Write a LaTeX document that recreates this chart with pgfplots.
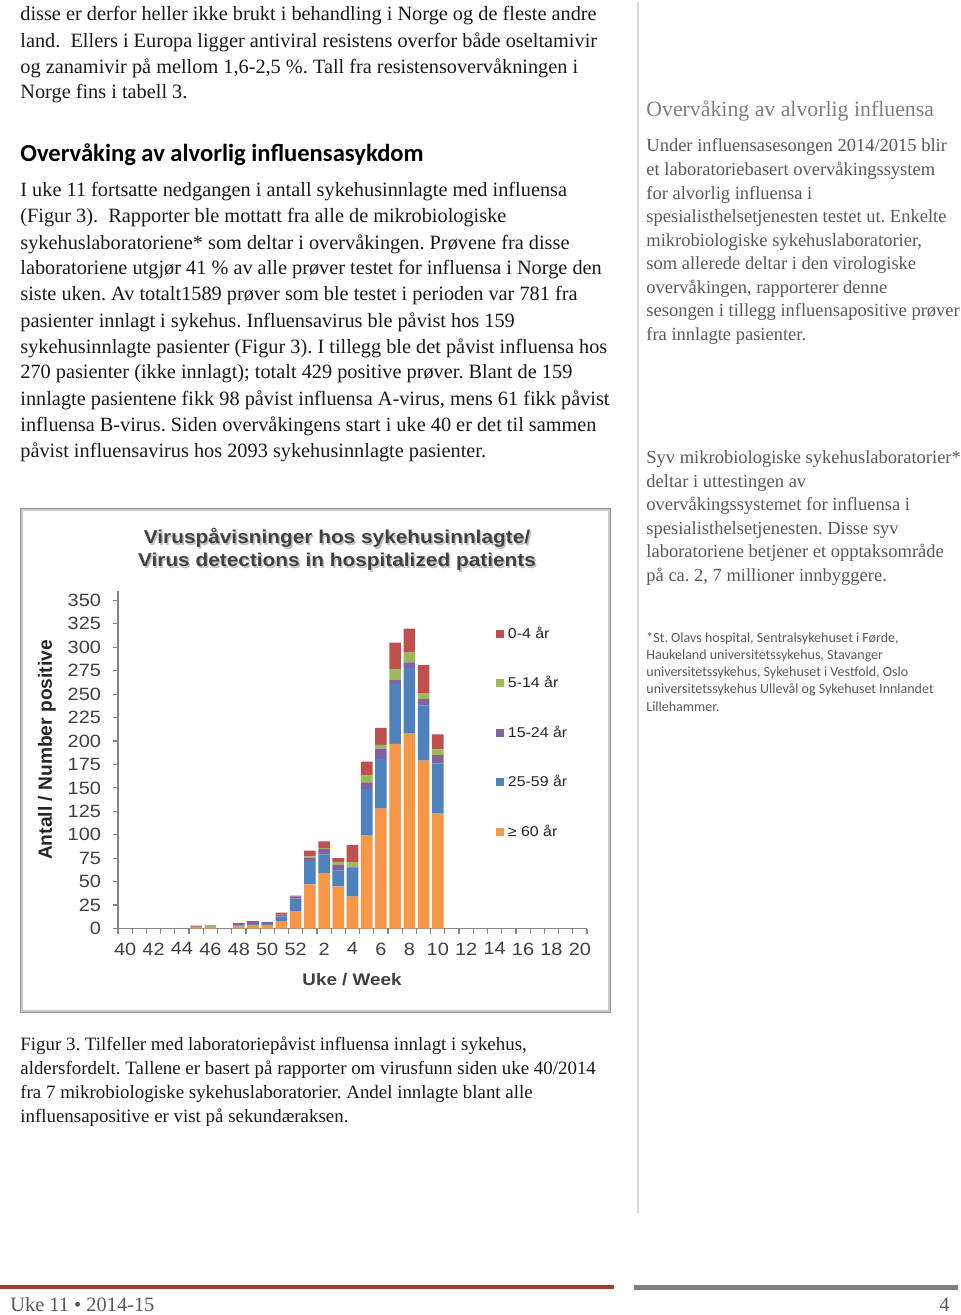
\documentclass[border=0pt]{standalone}
\usepackage{fontspec}
\setmainfont{Liberation Serif}
\newfontfamily\calfont{Carlito}
\newfontfamily\arialS[FakeStretch=1.12]{Liberation Sans}
\newfontfamily\arialN{Liberation Sans}
\usepackage{pgfplots}
\pgfplotsset{compat=1.18}
\usepackage{pgfplotstable}
\frenchspacing

\definecolor{cRed}{HTML}{C0504D}
\definecolor{cGreen}{HTML}{9BBB59}
\definecolor{cPurple}{HTML}{8064A2}
\definecolor{cBlue}{HTML}{4F81BD}
\definecolor{cOrange}{HTML}{F79646}
\definecolor{bodytxt}{HTML}{1A1A1A}
\definecolor{side}{HTML}{595959}
\definecolor{sidehead}{HTML}{7F7F7F}
\definecolor{footred}{HTML}{A33A2A}
\definecolor{axgray}{HTML}{868686}
\definecolor{chtxt}{HTML}{404040}

% x: 0..12 = weeks 40..52, 13..32 = weeks 1..20
% o: >=60, b: 25-59, p: 15-24, g: 5-14, r: 0-4
\pgfplotstableread{
x  o   b   p   g   r
5  1   0   1   0   1
6  1   1   0   2   0
8  2   1   2   0   1
9  4   1   2   0   1
10 4   1   2   0   0
11 8   5   2   0   2
12 18  14  2   0   1
13 47  25  3   2   6
14 59  20  6   1   7
15 45  17  6   3   4
16 34  31  1   5   18
17 99  50  7   8   14
18 128 53  11  4   18
19 197 64  4   12  28
20 208 70  6   11  25
21 179 59  7   6   30
22 123 53  9   6   16
}\hospdata

\begin{document}
\begin{tikzpicture}
\begin{scope}[x=0.5pt,y=-0.5pt]
\fill[white] (0,0) rectangle (960,1315);
\path[use as bounding box] (0,0) rectangle (960,1315);
\tikzset{L/.style={anchor=west, inner sep=0pt, text=bodytxt}}
% left column text
\begin{scope}[every node/.style={L, font=\fontsize{10.15}{12}\selectfont}]
\node at (20,16) {disse er derfor heller ikke brukt i behandling i Norge og de fleste andre};
\node at (20,42) {land.\ \ Ellers i Europa ligger antiviral resistens overfor både oseltamivir};
\node at (20,68) {og zanamivir på mellom 1,6-2,5 \%. Tall fra resistensovervåkningen i};
\node at (20,94) {Norge fins i tabell 3.};
\node at (20,192) {I uke 11 fortsatte nedgangen i antall sykehusinnlagte med influensa};
\node at (20,218) {(Figur 3).\ \ Rapporter ble mottatt fra alle de mikrobiologiske};
\node at (20,244) {sykehuslaboratoriene* som deltar i overvåkingen. Prøvene fra disse};
\node at (20,270) {laboratoriene utgjør 41 \% av alle prøver testet for influensa i Norge den};
\node at (20,296) {siste uken. Av totalt1589 prøver som ble testet i perioden var 781 fra};
\node at (20,322) {pasienter innlagt i sykehus. Influensavirus ble påvist hos 159};
\node at (20,348) {sykehusinnlagte pasienter (Figur 3). I tillegg ble det påvist influensa hos};
\node at (20,374) {270 pasienter (ikke innlagt); totalt 429 positive prøver. Blant de 159};
\node at (20,400) {innlagte pasientene fikk 98 påvist influensa A-virus, mens 61 fikk påvist};
\node at (20,426) {influensa B-virus. Siden overvåkingens start i uke 40 er det til sammen};
\node at (20,452) {påvist influensavirus hos 2093 sykehusinnlagte pasienter.};
\end{scope}
\node[L, text=black, font=\calfont\bfseries\fontsize{12.3}{14}\selectfont] at (20,155) {Overvåking av alvorlig influensasykdom};
% caption
\begin{scope}[every node/.style={L, font=\fontsize{9.45}{12}\selectfont}]
\node at (20,1046) {Figur 3. Tilfeller med laboratoriepåvist influensa innlagt i sykehus,};
\node at (20,1070) {aldersfordelt. Tallene er basert på rapporter om virusfunn siden uke 40/2014};
\node at (20,1094) {fra 7 mikrobiologiske sykehuslaboratorier. Andel innlagte blant alle};
\node at (20,1118) {influensapositive er vist på sekundæraksen.};
\end{scope}
% divider
\draw[color={rgb,255:red,217;green,217;blue,217}, line width=0.6pt] (638,2) -- (638,1213);
% right column
\node[L, text=sidehead, font=\fontsize{10.9}{13}\selectfont] at (646,111) {Overvåking av alvorlig influensa};
\begin{scope}[every node/.style={L, text=side, font=\fontsize{9.25}{11}\selectfont}]
\node at (646,147) {Under influensasesongen 2014/2015 blir};
\node at (646,171) {et laboratoriebasert overvåkingssystem};
\node at (646,195) {for alvorlig influensa i};
\node at (646,218) {spesialisthelsetjenesten testet ut. Enkelte};
\node at (646,242) {mikrobiologiske sykehuslaboratorier,};
\node at (646,265) {som allerede deltar i den virologiske};
\node at (646,289) {overvåkingen, rapporterer denne};
\node at (646,312) {sesongen i tillegg influensapositive prøver};
\node at (646,336) {fra innlagte pasienter.};
\node at (646,459) {Syv mikrobiologiske sykehuslaboratorier*};
\node at (646,483) {deltar i uttestingen av};
\node at (646,506) {overvåkingssystemet for influensa i};
\node at (646,530) {spesialisthelsetjenesten. Disse syv};
\node at (646,553) {laboratoriene betjener et opptaksområde};
\node at (646,577) {på ca. 2, 7 millioner innbyggere.};
\end{scope}
\begin{scope}[every node/.style={L, text=side, font=\calfont\fontsize{7}{8.5}\selectfont}]
\node at (646,639) {*St. Olavs hospital, Sentralsykehuset i Førde,};
\node at (646,656) {Haukeland universitetssykehus, Stavanger};
\node at (646,673) {universitetssykehus, Sykehuset i Vestfold, Oslo};
\node at (646,690) {universitetssykehus Ullevål og Sykehuset Innlandet};
\node at (646,707) {Lillehammer.};
\end{scope}
% footer
\fill[footred] (0,1285) rectangle (614,1289);
\fill[gray] (634,1285) rectangle (958,1290);
\node[L, text=side, font=\fontsize{10.2}{12}\selectfont] at (10,1305) {Uke 11 • 2014-15};
\node[anchor=east, inner sep=0pt, text=side, font=\fontsize{10.2}{12}\selectfont] at (950,1305) {4};
% chart frame
\draw[color={rgb,255:red,200;green,200;blue,200}, line width=1.5pt] (21,509) rectangle (609,1011);
\draw[color={rgb,255:red,150;green,150;blue,150}, line width=0.5pt] (20,508) rectangle (610,1012);
% chart title (with shadow)
\foreach \dx/\dy/\c in {1.5/1.5/{black!25}, 0/0/chtxt} {
  \node[text=\c, font=\arialS\bfseries\fontsize{9.3}{12}\selectfont] at (337+\dx,538+\dy) {Viruspåvisninger hos sykehusinnlagte/};
  \node[text=\c, font=\arialS\bfseries\fontsize{9.3}{12}\selectfont] at (337+\dx,562+\dy) {Virus detections in hospitalized patients};
}
\node[rotate=90, text={rgb,255:red,38;green,38;blue,38}, font=\arialN\bfseries\fontsize{9.6}{12}\selectfont] at (47,750) {Antall / Number positive};
\node[text=chtxt, font=\arialS\bfseries\fontsize{8.4}{10}\selectfont] at (352,980) {Uke / Week};
\end{scope}

\begin{axis}[
  at={(59pt,-464.25pt)}, anchor=south west,
  scale only axis, width=234.5pt, height=168.75pt,
  xmin=-0.5, xmax=32.5, ymin=0, ymax=360,
  ybar stacked, bar width=5.8pt,
  axis x line*=bottom, axis y line*=left,
  axis line style={axgray, line width=0.6pt, -},
  tick style={axgray, line width=0.6pt},
  tick align=outside, major tick length=2.5pt,
  ytick={0,25,...,350},
  xtick={-0.5,0.5,...,32.5},
  xticklabels={40,,42,,44,,46,,48,,50,,52,,2,,4,,6,,8,,10,,12,,14,,16,,18,,20,,},
  xticklabel style={xshift=3.55pt, yshift=-1pt, font=\arialS\fontsize{8.9}{10}\selectfont, text=chtxt},
  yticklabel style={xshift=-2.5pt, font=\arialS\fontsize{8.9}{10}\selectfont, text=chtxt},
  /pgf/number format/assume math mode=true,
  legend style={at={(0.805,0.907)}, anchor=north west, draw=none, fill=none,
    font=\arialS\fontsize{7.1}{8.5}\selectfont, text={rgb,255:red,38;green,38;blue,38},
    row sep=13.5pt, inner sep=0pt, /tikz/every even column/.append style={column sep=1pt}},
  legend cell align=left,
  reverse legend,
  legend image code/.code={\fill[#1] (0pt,-2pt) rectangle (4pt,2pt);},
  every axis plot/.append style={draw=none},
]
\addplot[fill=cOrange] table[x=x, y=o] {\hospdata};
\addplot[fill=cBlue] table[x=x, y=b] {\hospdata};
\addplot[fill=cPurple] table[x=x, y=p] {\hospdata};
\addplot[fill=cGreen] table[x=x, y=g] {\hospdata};
\addplot[fill=cRed] table[x=x, y=r] {\hospdata};
\legend{≥ 60 år, 25-59 år, 15-24 år, 5-14 år, 0-4 år}
\end{axis}
\end{tikzpicture}
\end{document}
